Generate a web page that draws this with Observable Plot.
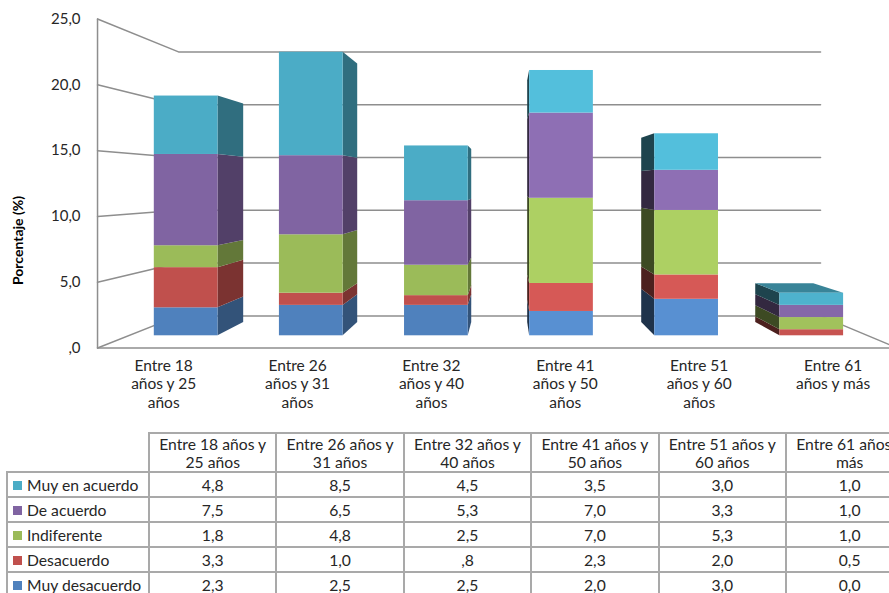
<!DOCTYPE html>
<html>
<head>
<meta charset="utf-8">
<script src="https://cdn.jsdelivr.net/npm/d3@7"></script>
<script src="https://cdn.jsdelivr.net/npm/@observablehq/plot@0.6"></script>
<style>
  body { margin: 0; background: #fff; font-family: Lato, "Open Sans", sans-serif; }
  #wrap { width: 889px; height: 593px; overflow: hidden; }
  table { border-collapse: collapse; table-layout: fixed; margin-left: 6px; font-size: 15.7px; color: #262626; }
  td { border: 2px solid #a9a9a9; text-align: center; padding: 0 4px; line-height: 18px; white-space: pre-line; overflow: hidden; }
  td.blank { border: none; }
  td.key { text-align: left; padding-left: 5px; white-space: nowrap; }
  tr.head { height: 39px; }
  tr.row { height: 25px; }
  .sw { display: inline-block; width: 9px; height: 9px; margin-right: 5px; vertical-align: 1px; }
</style>
</head>
<body>
<div id="wrap">
  <div id="chart"></div>
  <div id="tbl"></div>
</div>
<script>
// Age groups and answer shares (%), one array per answer
const categories = [
  "Entre 18 años y 25 años",
  "Entre 26 años y 31 años",
  "Entre 32 años y 40 años",
  "Entre 41 años y 50 años",
  "Entre 51 años y 60 años",
  "Entre 61 años y más"
];
const seriesNames = ["Muy desacuerdo", "Desacuerdo", "Indiferente", "De acuerdo", "Muy en acuerdo"];
const muyDesacuerdo = [2.3, 2.5, 2.5, 2.0, 3.0, 0.0];
const desacuerdo    = [3.3, 1.0, 0.8, 2.3, 2.0, 0.5];
const indiferente   = [1.8, 4.8, 2.5, 7.0, 5.3, 1.0];
const deAcuerdo     = [7.5, 6.5, 5.3, 7.0, 3.3, 1.0];
const muyEnAcuerdo  = [4.8, 8.5, 4.5, 3.5, 3.0, 1.0];
const yTicks = [0, 5, 10, 15, 20, 25];
const axisTitle = "Porcentaje (%)";

const seriesValues = [muyDesacuerdo, desacuerdo, indiferente, deAcuerdo, muyEnAcuerdo];
const seriesColors = ["#4F81BD", "#C0504D", "#9BBB59", "#8064A2", "#4BACC6"];
// the last column of the sheet prints a leading zero, the others do not
const leadingZero = [false, false, false, false, false, true];

// number formatting with a decimal comma
const es = d3.formatLocale({decimal: ",", thousands: ".", grouping: [3]});
const fmt1 = es.format(".1f");
const fmtShort = v => fmt1(v).replace(/^0,/, ",");

// --- 3D view: a homothety about the vanishing point, in data units of the bar front plane
const VPX = 2.568, VPV = 12.37;          // vanishing point (category index, value)
const K_FRONT = 1.0813;                  // plane of the value axis and front floor edge
const K_BACK = 0.8677;                   // back wall
const K_DEPTH = 0.9113;                  // back face of the columns
const K_LABEL = 1.07;                    // category labels
const WALL_L = -0.462, WALL_R = 5.452;   // side walls
const HALF = 0.2546;                     // half column width
const proj = (xi, v, k) => ({x: VPX + (xi - VPX) * k, y: VPV + (v - VPV) * k});

// stacked segments
const segs = [];
categories.forEach((c, i) => {
  let acc = 0;
  seriesValues.forEach((arr, j) => {
    segs.push({i, j, y1: acc, y2: acc + arr[i]});
    acc += arr[i];
  });
});
const totals = categories.map((c, i) => d3.sum(seriesValues, a => a[i]));

// shading of the faces
const frontLight = [0, 0, 0, 0.3, 0.3, 0.1];
function faceColor(j, i, kind) {
  const c = d3.color(seriesColors[j]);
  if (kind === "front") return c.brighter(frontLight[i]).formatHex();
  if (kind === "right") return c.darker(1.25).formatHex();
  if (kind === "left") return c.darker(2.6).formatHex();
  return c.darker(0.75).formatHex();
}

// side faces: the right face for columns left of the vanishing point, the left face otherwise
const sidePts = [];
segs.forEach((s, n) => {
  const rightSide = s.i + HALF < VPX;
  const edge = rightSide ? s.i + HALF : s.i - HALF;
  const fill = faceColor(s.j, s.i, rightSide ? "right" : "left");
  for (const k of [1, K_DEPTH]) {
    const a = proj(edge, s.y1, k), b = proj(edge, s.y2, k);
    sidePts.push({face: n, x: a.x, y1: a.y, y2: b.y, fill});
  }
});

// top faces, visible only below the eye level
const topPts = [];
totals.forEach((t, i) => {
  if (t >= VPV) return;
  const j = seriesValues.length - 1;
  const fill = faceColor(j, i, "top");
  for (const k of [1, K_DEPTH]) {
    const l = proj(i - HALF, t, k), r = proj(i + HALF, t, k);
    topPts.push({face: i, y: l.y, x1: l.x, x2: r.x, fill});
  }
});

// walls: gridlines across the left wall and the back wall
const gridPts = [];
yTicks.forEach(v => {
  gridPts.push({tick: v, ...proj(WALL_L, v, K_FRONT)});
  gridPts.push({tick: v, ...proj(WALL_L, v, K_BACK)});
  gridPts.push({tick: v, ...proj(WALL_R, v, K_BACK)});
});
const yMax = d3.max(yTicks);
const axisLine = [proj(WALL_L, 0, K_FRONT), proj(WALL_L, yMax, K_FRONT)];
const floorFront = [proj(WALL_L, 0, K_FRONT), proj(WALL_R, 0, K_FRONT)];
const floorRight = [proj(WALL_R, 0, K_BACK), proj(WALL_R, 0, K_FRONT)];

// category labels wrapped to short lines
function wrap(s, max = 10) {
  const lines = [];
  let cur = "";
  for (const w of s.split(" ")) {
    if (cur && (cur + " " + w).length > max) { lines.push(cur); cur = w; }
    else cur = cur ? cur + " " + w : w;
  }
  lines.push(cur);
  return lines.join("\n");
}
const catLabels = categories.map((c, i) => ({...proj(i, 0, K_LABEL), text: wrap(c)}));

const GRID = "#8e8e8e";
const TEXT = "#262626";

const chart = Plot.plot({
  width: 889,
  height: 432,
  margin: 0,
  x: {domain: [-0.5, 5.5], range: [123.1, 873.8], axis: null},
  y: {domain: [0, 25], range: [335.3, 335.3 - 25 * 12.17], axis: null},
  color: {type: "identity"},
  style: {fontFamily: "Lato, 'Open Sans', sans-serif", fontSize: "15px", color: TEXT, background: "white"},
  marks: [
    Plot.line(gridPts, {x: "x", y: "y", z: "tick", stroke: GRID, strokeWidth: 1.5}),
    Plot.line(floorFront, {x: "x", y: "y", stroke: GRID, strokeWidth: 1.5}),
    Plot.line(floorRight, {x: "x", y: "y", stroke: GRID, strokeWidth: 1.5}),
    Plot.line(axisLine, {x: "x", y: "y", stroke: GRID, strokeWidth: 1.5}),
    Plot.areaY(sidePts, {x: "x", y1: "y1", y2: "y2", z: "face", fill: "fill"}),
    Plot.areaX(topPts, {y: "y", x1: "x1", x2: "x2", z: "face", fill: "fill"}),
    Plot.rect(segs, {
      x1: d => d.i - HALF, x2: d => d.i + HALF,
      y1: "y1", y2: "y2",
      fill: d => faceColor(d.j, d.i, "front")
    }),
    Plot.text(yTicks, {
      x: v => proj(WALL_L, v, K_FRONT).x,
      y: v => proj(WALL_L, v, K_FRONT).y,
      text: v => fmtShort(v),
      textAnchor: "end", dx: -17, fill: TEXT
    }),
    Plot.text(catLabels, {
      x: "x", y: "y", text: "text",
      lineAnchor: "top", lineHeight: 1.2, dy: 11, fontSize: 15.5, fill: TEXT
    }),
    Plot.text([axisTitle], {
      frameAnchor: "left", dx: 18, dy: 24, rotate: -90, textAnchor: "middle",
      fontWeight: "bold", fontSize: 14, fill: "#000"
    })
  ]
});
document.getElementById("chart").appendChild(chart);

// data table with the legend keys
const table = d3.select("#tbl").append("table").style("width", (142 + categories.length * 127.4) + "px");
const cg = table.append("colgroup");
cg.append("col").style("width", "142px");
categories.forEach(() => cg.append("col").style("width", "127.4px"));
const head = table.append("tr").attr("class", "head");
head.append("td").attr("class", "blank");
categories.forEach(c => head.append("td").text(c.replace(" y ", " y\n")));
for (let j = seriesNames.length - 1; j >= 0; --j) {
  const tr = table.append("tr").attr("class", "row");
  const key = tr.append("td").attr("class", "key");
  key.append("span").attr("class", "sw").style("background", seriesColors[j]);
  key.append("span").text(seriesNames[j]);
  seriesValues[j].forEach((v, i) => tr.append("td").text(leadingZero[i] ? fmt1(v) : fmtShort(v)));
}
</script>
</body>
</html>
